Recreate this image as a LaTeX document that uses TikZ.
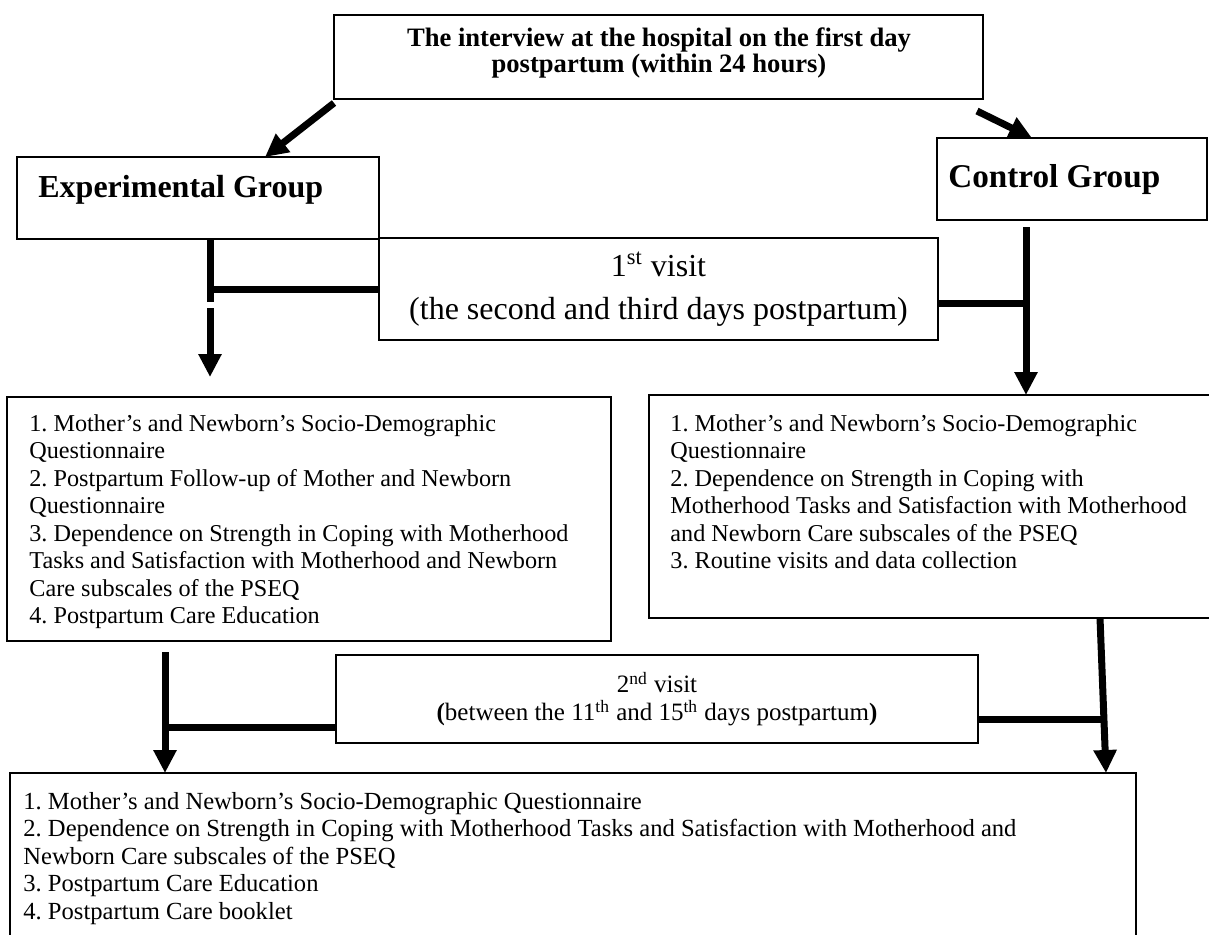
\documentclass[tikz,border=0pt]{standalone}
\usepackage{fontspec}
\setmainfont{Liberation Serif}
\usetikzlibrary{arrows.meta,calc}
\frenchspacing
\tikzset{
  box/.style={draw, line width=0.9pt, rectangle, inner sep=0pt, outer sep=0pt, anchor=north west},
  conn/.style={line width=3.5pt},
  arr/.style={line width=3.5pt, -{Triangle[length=11.5pt,width=11pt]}},
  listtext/.style={anchor=north west, align=left, inner sep=0pt, font=\fontsize{12.1}{13.75}\selectfont},
  grp/.style={anchor=base west, inner sep=0pt, font=\fontsize{16}{19}\selectfont\bfseries},
}
\begin{document}
\begin{tikzpicture}[x=0.5pt,y=-0.5pt]
\useasboundingbox (0,0) rectangle (1209,934);
\clip (0,0) rectangle (1209,934);

% boxes
\node[box, minimum width=324.5pt, minimum height=42pt] (top) at (334,15) {};
\node[align=center, inner sep=0pt, font=\fontsize{13.3}{13.3}\selectfont\bfseries] (toptxt) at (659,53)
  {The interview at the hospital on the first day\\postpartum (within 24 hours)};
\node[box, minimum width=181pt, minimum height=41pt] (exp) at (17,157) {};
\node[grp] (exptxt) at (38,197) {Experimental Group};
\node[box, minimum width=135pt, minimum height=41pt] (ctrl) at (937,138) {};
\node[grp, font=\fontsize{16.6}{19}\selectfont\bfseries] (ctrltxt) at (948,187) {Control Group};
\node[box, minimum width=279.5pt, minimum height=51pt, align=center,
      font=\fontsize{16}{21.5}\selectfont] (v1) at (379,238)
  {1\textsuperscript{st} visit\\(the second and third days postpartum)};
\node[box, minimum width=302pt, minimum height=122pt] (L) at (7,397) {};
\node[listtext] (Ltxt) at (29,414) {1. Mother's and Newborn's Socio-Demographic\\
Questionnaire\\
2. Postpartum Follow-up of Mother and Newborn\\
Questionnaire\\
3. Dependence on Strength in Coping with Motherhood\\
Tasks and Satisfaction with Motherhood and Newborn\\
Care subscales of the PSEQ\\
4. Postpartum Care Education};
\node[box, minimum width=286.5pt, minimum height=111.5pt] (R) at (649,395) {};
\node[listtext] (Rtxt) at (670,414) {1. Mother's and Newborn's Socio-Demographic\\
Questionnaire\\
2. Dependence on Strength in Coping with\\
Motherhood Tasks and Satisfaction with Motherhood\\
and Newborn Care subscales of the PSEQ\\
3. Routine visits and data collection};
\node[box, minimum width=321pt, minimum height=44pt, align=center,
      font=\fontsize{12.5}{14}\selectfont] (v2) at (336,655)
  {2\textsuperscript{nd} visit\\\textbf{(}between the 11\textsuperscript{th} and 15\textsuperscript{th} days postpartum\textbf{)}};
\node[box, minimum width=563pt, minimum height=88.5pt] (B) at (10,773) {};
\node[listtext, font=\fontsize{12.3}{13.75}\selectfont] (Btxt) at (23,792) {1. Mother's and Newborn's Socio-Demographic Questionnaire\\
2. Dependence on Strength in Coping with Motherhood Tasks and Satisfaction with Motherhood and\\
Newborn Care subscales of the PSEQ\\
3. Postpartum Care Education\\
4. Postpartum Care booklet};

% connectors
\coordinate (a1s) at ([yshift=-2pt]top.south west);
\coordinate (a1e) at ([xshift=124pt]exp.north west);
\draw[arr] (a1s) -- (a1e);
\coordinate (a2s) at ([xshift=-3pt,yshift=-6pt]top.south east);
\coordinate (a2e) at ([xshift=47.5pt]ctrl.north west);
\draw[arr] (a2s) -- (a2e);

\coordinate (j1) at ([xshift=96.5pt]exp.south west);
\draw[conn] (j1) -- ++(0,63);
\draw[conn] (v1.west) -- (v1.west -| j1);
\draw[arr] ($(j1)+(0,69)$) -- ($(j1)+(0,138)$);

\coordinate (j2) at ([xshift=44.5pt,yshift=-3.5pt]ctrl.south west);
\draw[arr] (j2) -- (R.north -| j2);
\draw[conn] ([yshift=-7pt]v1.east) -- ([yshift=-7pt]v1.east -| j2);

\coordinate (j3) at ([xshift=79pt,yshift=-5.5pt]L.south west);
\draw[arr] (j3) -- (B.north -| j3);
\draw[conn] ([yshift=-14pt]v2.west) -- ([yshift=-14pt]v2.west -| j3);

\coordinate (j4) at ([xshift=225.5pt]R.south west);
\coordinate (j4e) at ([xshift=-15pt]B.north east);
\draw[arr] (j4) -- (j4e);
\draw[conn] ([yshift=-10pt]v2.east) -- ++(125,0);
\end{tikzpicture}
\end{document}
